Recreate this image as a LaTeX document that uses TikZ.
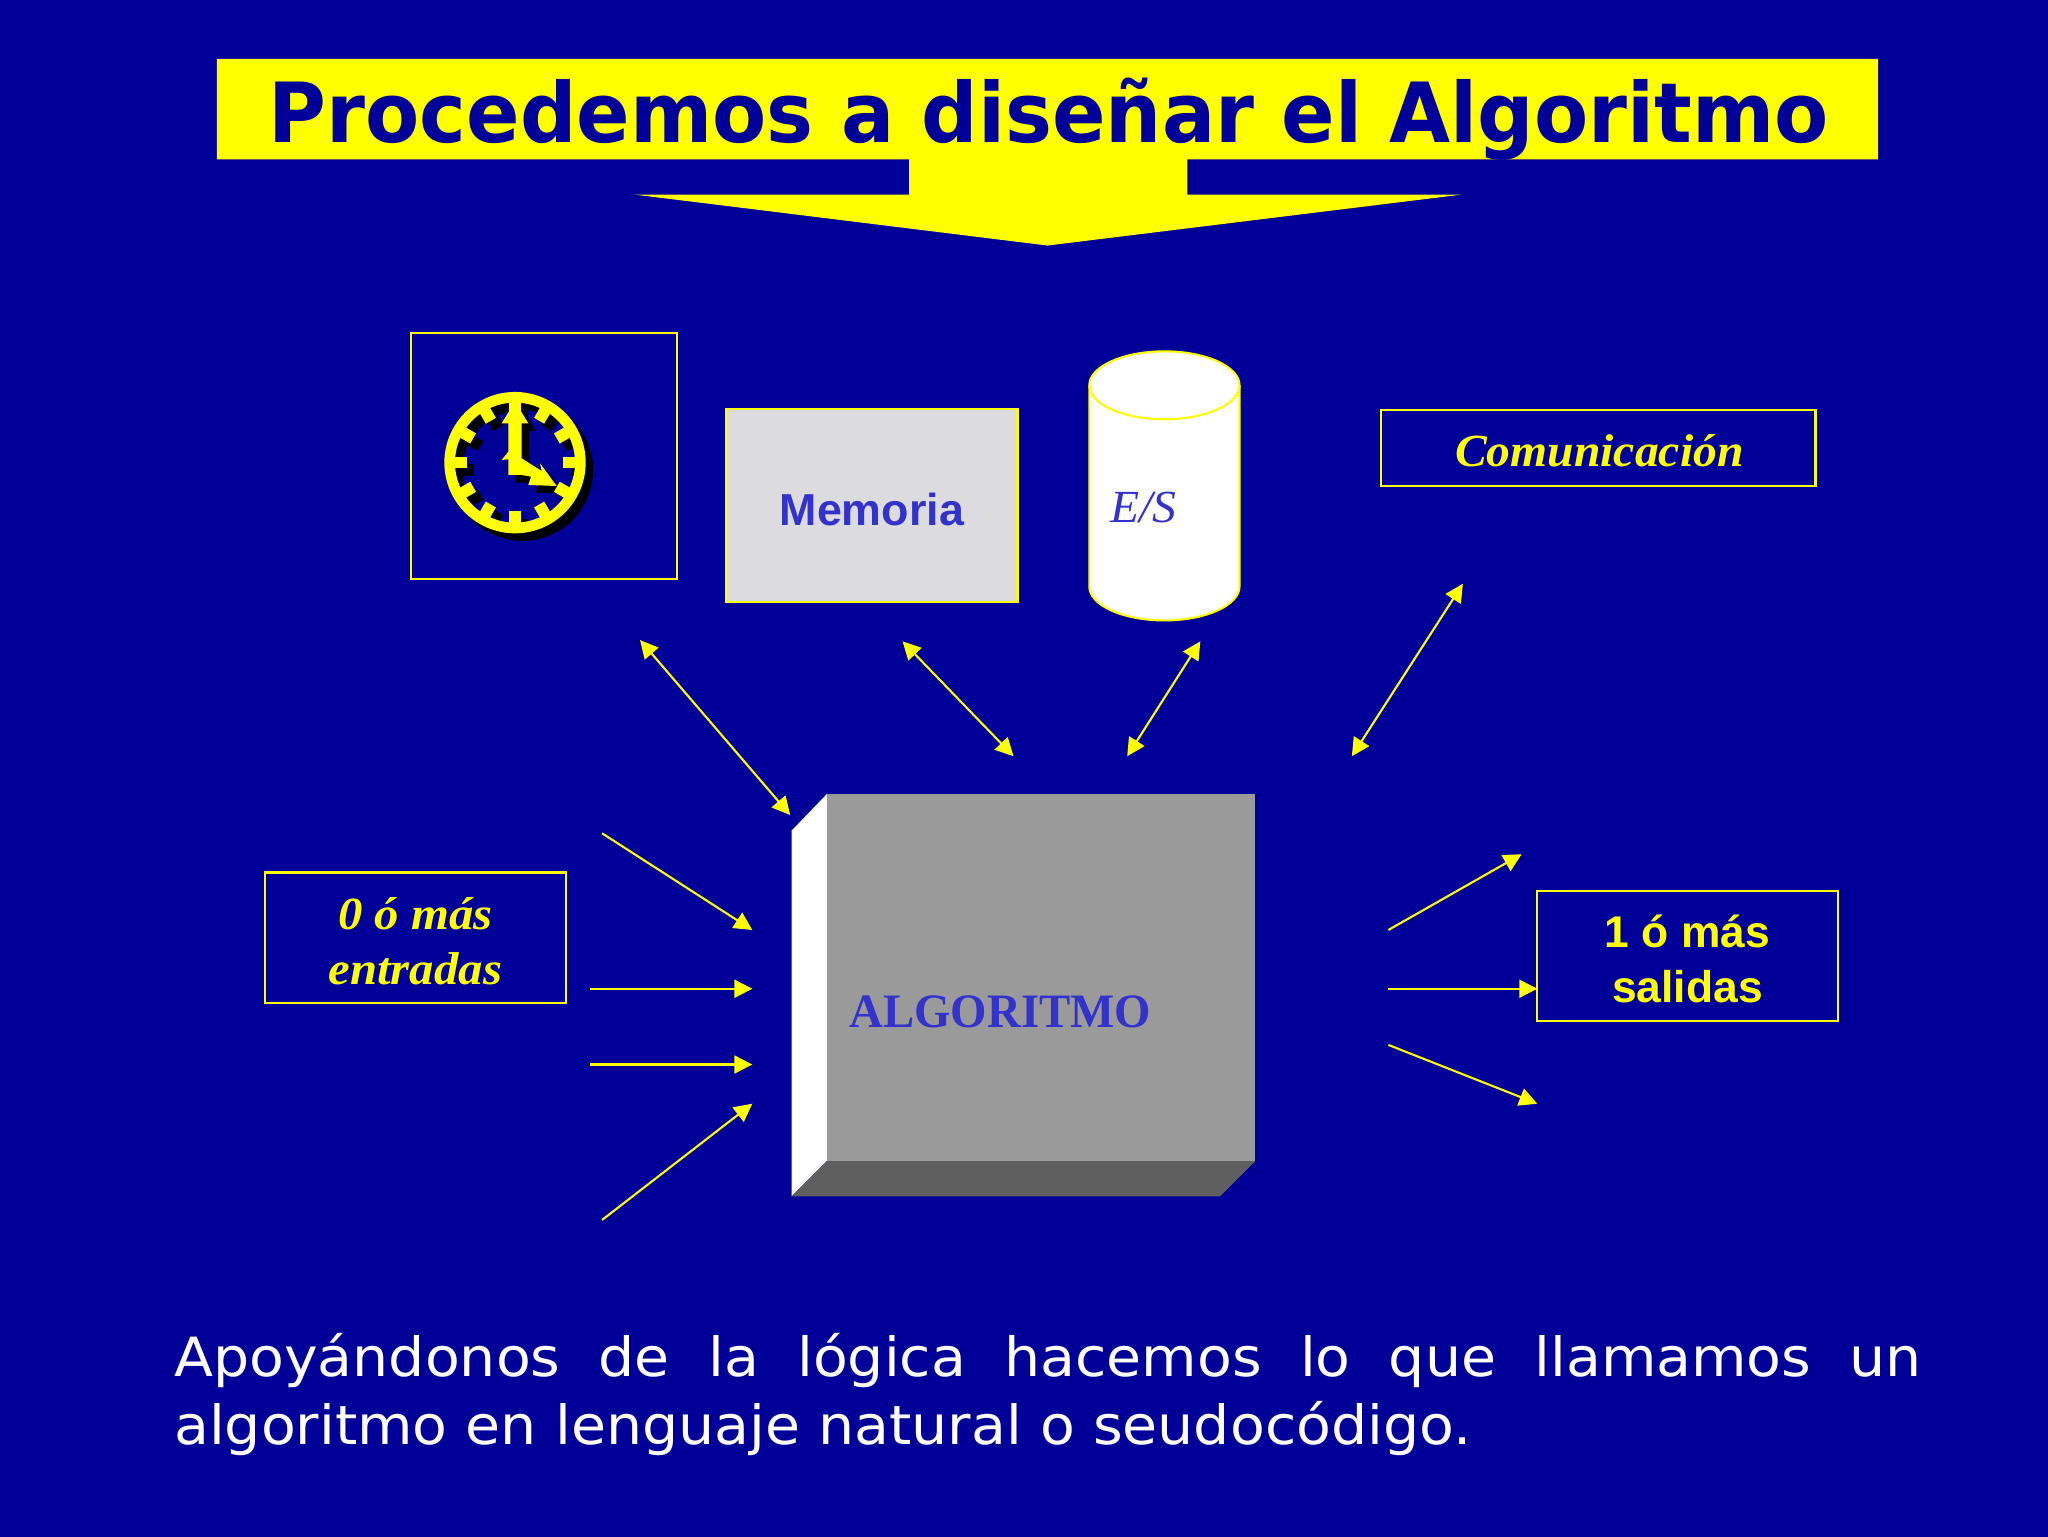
\documentclass[tikz,border=0pt]{standalone}
\usepackage{fontspec}
\setmainfont{Liberation Serif}
\newfontfamily\titlefont[FakeStretch=0.951]{DejaVu Sans}
\newfontfamily\bodyfont[FakeStretch=1.055]{DejaVu Sans}
\newfontfamily\arialish{Liberation Sans}
\newfontfamily\algfont[FakeStretch=0.975]{Liberation Serif}
\newfontfamily\bookish[FakeStretch=1.06]{Liberation Serif}
\newfontfamily\comfont[FakeStretch=1.035]{Liberation Serif}
\usetikzlibrary{arrows.meta}
\definecolor{bgblue}{HTML}{000099}
\definecolor{banner}{HTML}{FFFF00}
\definecolor{inkblue}{HTML}{3333CC}
\definecolor{facegrey}{HTML}{9B9A9B}
\definecolor{undergrey}{HTML}{5F5F5F}
\definecolor{memgrey}{HTML}{DCDCDE}
\tikzset{
  yline/.style={draw=banner,line width=1.05pt},
  arr/.style={yline,-{Triangle[length=9pt,width=9pt]}},
  biarr/.style={yline,{Triangle[length=9pt,width=9pt]}-{Triangle[length=9pt,width=9pt]}},
  framebox/.style={yline,inner sep=0pt,outer sep=0pt,anchor=north west},
  lbl/.style={inner sep=0pt,align=center},
}
\newcommand{\clockshape}[1]{%
  \fill[#1,even odd rule] (0,0) circle (212) (0,0) circle (180);
  \foreach \a in {0,30,...,330}{
    \fill[#1,rotate=\a] (-17.5,145) rectangle (17.5,185);
  }
  \fill[#1] (0,-183) -- (40,-118) -- (20,-118) -- (20,-13) -- (80,25) -- (75,2) -- (125,70)
    -- (40,67) -- (48,42) -- (20,37) -- (-20,37) -- (-20,-10) -- (-40,-8) -- (-20,-33)
    -- (-20,-118) -- (-40,-118) -- cycle;
}
\begin{document}
\begin{tikzpicture}[x=0.65306pt,y=-0.65306pt]
\useasboundingbox (0,0) rectangle (1568,1176);
\fill[bgblue] (-2,-2) rectangle (1570,1178);

% title banner
\fill[banner] (166,45) -- (1438,45) -- (1438,122) -- (909,122) -- (909,149) -- (1119,149)
  -- (802,188) -- (486,149) -- (696,149) -- (696,122) -- (166,122) -- cycle;
\node[lbl,text=bgblue,font=\titlefont\bfseries\fontsize{41.5pt}{44pt}\selectfont,anchor=base] (title)
  at (803,109) {Procedemos a diseñar el Algoritmo};

% clock
\node[framebox,minimum width=203*0.65306pt,minimum height=188*0.65306pt] (clockbox) at (315,255) {};
\begin{scope}[shift={(400,360)},x=0.1667pt,y=-0.1667pt]
  \clockshape{black}
\end{scope}
\begin{scope}[shift={(394.3,354.2)},x=0.1667pt,y=-0.1667pt]
  \clockshape{banner}
\end{scope}

% memory
\node[framebox,fill=memgrey,minimum width=223*0.65306pt,minimum height=148*0.65306pt] (mem) at (556,313) {};
\node[lbl,text=inkblue,font=\arialish\bfseries\fontsize{22.4pt}{26pt}\selectfont,anchor=base] (memtxt) at (667.5,402) {Memoria};

% cylinder
\filldraw[yline,fill=white] (834,295) -- (834,449) arc[start angle=180,end angle=0,x radius=57.5,y radius=26]
  -- (949,295) arc[start angle=0,end angle=-180,x radius=57.5,y radius=26] -- cycle;
\draw[yline] (834,295) arc[start angle=180,end angle=0,x radius=57.5,y radius=26];
\node[lbl,text=inkblue,font=\comfont\itshape\fontsize{23pt}{26pt}\selectfont,anchor=base west] (es) at (850,400) {E/S};

% comunicacion
\node[framebox,minimum width=333*0.65306pt,minimum height=58*0.65306pt] (com) at (1057,314) {};
\node[lbl,text=banner,font=\comfont\bfseries\itshape\fontsize{23pt}{26pt}\selectfont,anchor=base] (comtxt) at (1224.5,357) {Comunicación};

% algorithm block
\fill[facegrey] (633,608) rectangle (961,889);
\fill[white] (606,636) -- (633,608) -- (633,889) -- (606,916) -- cycle;
\fill[undergrey] (606,916) -- (633,889) -- (961,889) -- (934,916) -- cycle;
\node[lbl,text=inkblue,font=\algfont\bfseries\fontsize{24pt}{26pt}\selectfont,anchor=base west] (alg) at (650,787) {ALGORITMO};

% inputs / outputs
\node[framebox,minimum width=230*0.65306pt,minimum height=100*0.65306pt] (inbox) at (203,668) {};
\node[lbl,text=banner,font=\bookish\bfseries\itshape\fontsize{23pt}{27.5pt}\selectfont] (intxt) at (318,721) {0 ó más\\entradas};
\node[framebox,minimum width=230*0.65306pt,minimum height=100*0.65306pt] (outbox) at (1177,682) {};
\node[lbl,text=banner,font=\arialish\bfseries\fontsize{22.2pt}{27.5pt}\selectfont] (outtxt) at (1292,734) {1 ó más\\salidas};

% free connector ends
\coordinate (a1) at (490,490); \coordinate (a2) at (605,624);
\coordinate (b1) at (691,491); \coordinate (b2) at (776,579);
\coordinate (c1) at (919,491); \coordinate (c2) at (863,579);
\coordinate (d1) at (1120,447); \coordinate (d2) at (1035,579);
\coordinate (e1) at (461,638); \coordinate (e2) at (576,712);
\coordinate (f1) at (452,757); \coordinate (f2) at (576,757);
\coordinate (g1) at (452,815); \coordinate (g2) at (576,815);
\coordinate (h1) at (461,934); \coordinate (h2) at (576,845);
\coordinate (i1) at (1063,712); \coordinate (i2) at (1165,654);
\coordinate (j1) at (1063,757); \coordinate (j2) at (1177,757);
\coordinate (k1) at (1063,800); \coordinate (k2) at (1177,845);

\draw[biarr] (a1) -- (a2);
\draw[biarr] (b1) -- (b2);
\draw[biarr] (c1) -- (c2);
\draw[biarr] (d1) -- (d2);
\draw[arr] (e1) -- (e2);
\draw[arr] (f1) -- (f2);
\draw[arr] (g1) -- (g2);
\draw[arr] (h1) -- (h2);
\draw[arr] (i1) -- (i2);
\draw[arr] (j1) -- (j2);
\draw[arr] (k1) -- (k2);

% bottom text
\node[inner sep=0pt,text=white,anchor=north west,text width=1338*0.65306pt,align=justify,
  font=\bodyfont\fontsize{27pt}{34pt}\selectfont] (para) at (133,1020.5)
  {Apoyándonos de la lógica hacemos lo que llamamos un\linebreak algoritmo en lenguaje natural o seudocódigo.};
\end{tikzpicture}
\end{document}
